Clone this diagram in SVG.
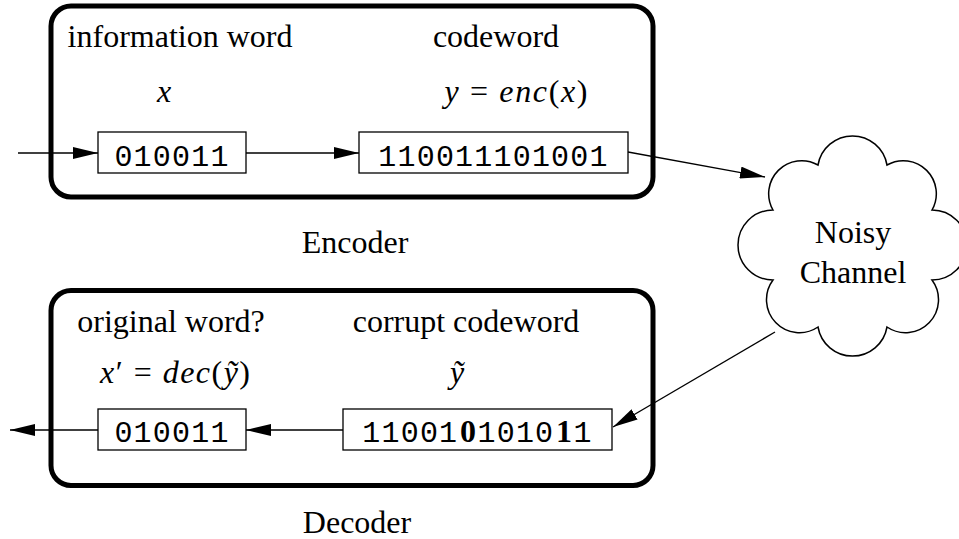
<svg xmlns="http://www.w3.org/2000/svg" width="959" height="539" viewBox="0 0 959 539">
<style>
  .frame { fill: none; stroke: #000; stroke-width: 5; }
  .box { fill: #fff; stroke: #000; stroke-width: 1.3; }
  .lbl { font-family: "Liberation Serif", "Times New Roman", serif; font-size: 32px; fill: #000; }
  .math { font-family: "Liberation Serif", "Times New Roman", serif; font-size: 32px; fill: #000; }
  .it { font-style: italic; }
  .mono { font-family: "Liberation Mono", "Courier New", monospace; font-size: 30px; letter-spacing: 1.2px; fill: #000; }
  .bold { font-family: "Liberation Serif", "Times New Roman", serif; font-weight: bold; font-size: 32px; fill: #000; }
  .edge { fill: none; stroke: #000; stroke-width: 1.3; marker-end: url(#arrow); }
  .cloud { fill: #fff; stroke: #000; stroke-width: 1.5; }
</style>
<defs>
  <marker id="arrow" markerUnits="userSpaceOnUse" markerWidth="26" markerHeight="12" refX="25" refY="6" orient="auto">
    <path d="M0,0 L25,6 L0,12 z" fill="#000"/>
  </marker>
</defs>
<rect width="959" height="539" fill="#fff"/>

<g id="encoder">
  <rect class="frame" x="51" y="6" width="602" height="191" rx="20" ry="20"/>
  <text class="lbl" x="180" y="47" text-anchor="middle">information word</text>
  <text class="lbl" x="496" y="47" text-anchor="middle">codeword</text>
  <text class="math it" x="164" y="102" text-anchor="middle">x</text>
  <text class="math" x="516" y="102" text-anchor="middle" textLength="143" lengthAdjust="spacing"><tspan class="it">y</tspan> = <tspan class="it">enc</tspan>(<tspan class="it">x</tspan>)</text>
  <text class="lbl" x="355" y="253" text-anchor="middle">Encoder</text>
</g>

<g id="info-word">
  <rect class="box" x="98" y="132" width="148" height="41"/>
  <text class="mono" x="114.4" y="166">010011</text>
</g>

<g id="codeword">
  <rect class="box" x="359" y="132" width="269" height="41"/>
  <text class="mono" x="378.3" y="166">110011101001</text>
</g>

<g id="channel">
  <path class="cloud" d="M773,210 A33,33 0 0 1 818,165 A35,35 0 0 1 887,165 A33,33 0 0 1 932,210 A35,35 0 0 1 932,280 A33,33 0 0 1 887,327 A35,35 0 0 1 818,327 A33,33 0 0 1 773,280 A35,35 0 0 1 773,210 Z"/>
  <text class="lbl" x="853" y="243" text-anchor="middle">Noisy</text>
  <text class="lbl" x="853" y="283" text-anchor="middle">Channel</text>
</g>

<g id="decoder">
  <rect class="frame" x="51" y="290.5" width="602" height="195" rx="20" ry="20"/>
  <text class="lbl" x="171" y="332" text-anchor="middle">original word?</text>
  <text class="lbl" x="466" y="332" text-anchor="middle">corrupt codeword</text>
  <text class="math" x="175" y="383" text-anchor="middle" textLength="150" lengthAdjust="spacing"><tspan class="it">x</tspan>′ = <tspan class="it">dec</tspan>(<tspan class="it">ỹ</tspan>)</text>
  <text class="math it" x="457" y="383" text-anchor="middle">ỹ</text>
  <text class="lbl" x="357" y="533" text-anchor="middle">Decoder</text>
</g>

<g id="corrupt-word">
  <rect class="box" x="343" y="409" width="269" height="41"/>
  <text class="mono" x="362.3" y="442">11001</text>
  <text class="bold" x="467.9" y="442" text-anchor="middle">0</text>
  <text class="mono" x="477.5" y="442">1010</text>
  <text class="bold" x="563.9" y="442" text-anchor="middle">1</text>
  <text class="mono" x="573.5" y="442">1</text>
</g>

<g id="decoded-word">
  <rect class="box" x="98" y="409" width="148" height="41"/>
  <text class="mono" x="114.4" y="442">010011</text>
</g>

<g id="connectors">
  <line class="edge" x1="18" y1="153" x2="98" y2="153"/>
  <line class="edge" x1="246" y1="153" x2="359" y2="153"/>
  <line class="edge" x1="628" y1="152" x2="765" y2="177"/>
  <line class="edge" x1="775" y1="332" x2="613" y2="427"/>
  <line class="edge" x1="343" y1="430" x2="246" y2="430"/>
  <line class="edge" x1="98" y1="430" x2="10" y2="430"/>
</g>
</svg>
